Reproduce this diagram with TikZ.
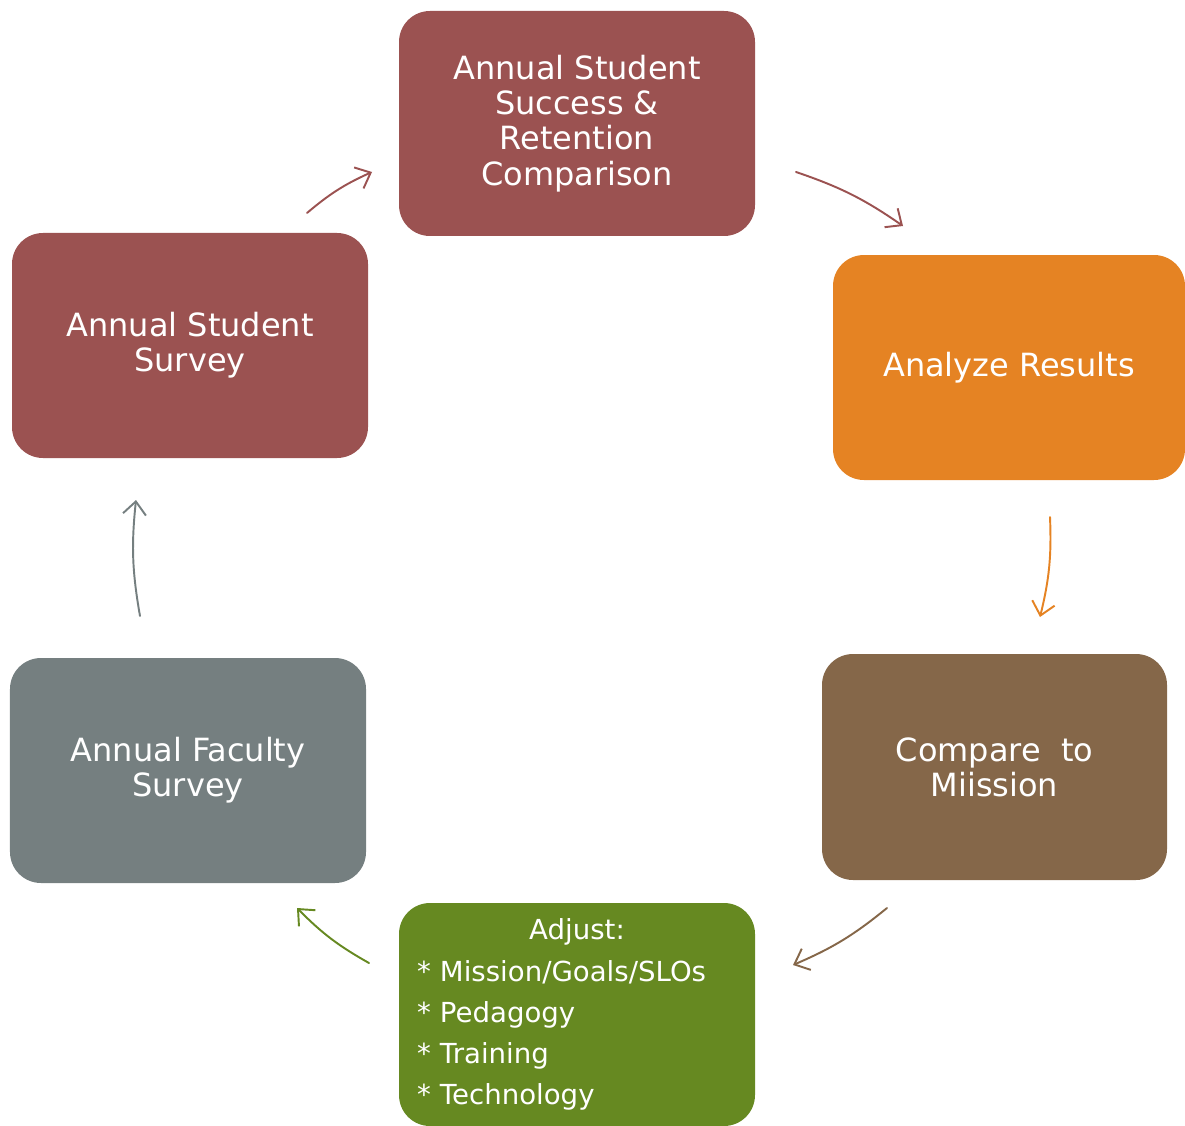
\documentclass[tikz,border=0pt]{standalone}
\usepackage{fontspec}
\setmainfont{DejaVu Sans}
\usetikzlibrary{arrows.meta}
\definecolor{wine}{RGB}{155,82,81}
\definecolor{amber}{RGB}{229,131,35}
\definecolor{umber}{RGB}{133,103,73}
\definecolor{moss}{RGB}{102,137,33}
\definecolor{slate}{RGB}{117,127,128}
\tikzset{>={Straight Barb[length=2.6mm,width=4.6mm]}}
\tikzstyle{stage}=[rectangle,rounded corners=0.62cm,text=white,align=center,minimum width=7.12cm,minimum height=4.5cm,inner sep=0pt,font=\fontsize{18.2}{20}\selectfont]
\tikzstyle{cyc}=[->,line width=1.1pt,line cap=round]

\begin{document}
\begin{tikzpicture}
	\useasboundingbox (0,0) rectangle (23.7,-22.52);
	\node[stage, fill=wine] (success) at (11.54,-2.47) {Annual Student\\Success \&\\Retention\\Comparison};
	\node[stage, fill=amber, minimum width=7.04cm] (analyze) at (20.18,-7.35) {Analyze Results};
	\node[stage, fill=umber, minimum width=6.9cm, minimum height=4.52cm] (compare) at (19.89,-15.34) {Compare\ \ to\\Miission};
	\node[stage, fill=moss, minimum height=4.46cm, align=left, text width=6.4cm, inner xsep=0.36cm,
		font=\fontsize{15.7}{23.4}\selectfont] (adjust) at (11.54,-20.29)
		{\makebox[\linewidth]{Adjust:}\\{*} Mission/Goals/SLOs\\{*} Pedagogy\\{*} Training\\{*} Technology};
	\node[stage, fill=slate] (faculty) at (3.76,-15.41) {Annual Faculty\\Survey};
	\node[stage, fill=wine] (student) at (3.80,-6.91) {Annual Student\\Survey};
	
	% loose ends of the cycle arrows
	\coordinate (a1s) at (6.14,-4.26);  \coordinate (a1e) at (7.44,-3.44);
	\coordinate (a2s) at (15.92,-3.44); \coordinate (a2e) at (18.06,-4.52);
	\coordinate (a3s) at (21.0,-10.34); \coordinate (a3e) at (20.8,-12.34);
	\coordinate (a4s) at (17.74,-18.16); \coordinate (a4e) at (15.86,-19.30);
	\coordinate (a5s) at (7.38,-19.26); \coordinate (a5e) at (5.94,-18.16);
	\coordinate (a6s) at (2.80,-12.32); \coordinate (a6e) at (2.72,-10.0);
	
	\draw[cyc, wine] (a1s) to[bend left=8] (a1e);
	\draw[cyc, wine] (a2s) to[bend left=8] (a2e);
	\draw[cyc, amber] (a3s) to[bend left=8] (a3e);
	\draw[cyc, umber] (a4s) to[bend left=8] (a4e);
	\draw[cyc, moss] (a5s) to[bend left=8] (a5e);
	\draw[cyc, slate] (a6s) to[bend left=8] (a6e);
\end{tikzpicture}
\end{document}
